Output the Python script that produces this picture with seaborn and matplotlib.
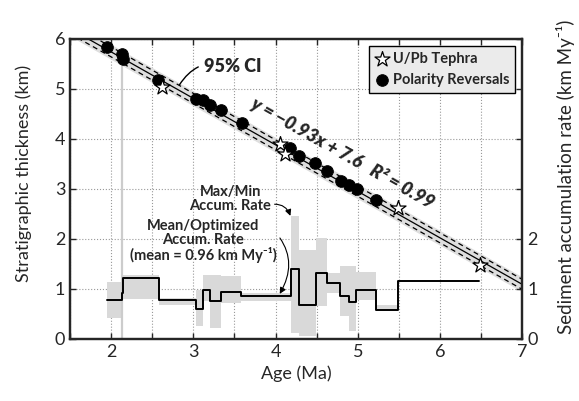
import numpy as np
import pandas as pd
import seaborn as sns
import matplotlib.pyplot as plt

# ---------------- DATA ----------------
# age (Ma) and stratigraphic thickness (km) of dated horizons
tephra_age = [2.62, 4.05, 4.11, 5.49, 6.48]
tephra_thk = [5.03, 3.90, 3.69, 2.62, 1.47]
reversal_age = [1.945, 2.127, 2.146, 2.57, 3.03, 3.12, 3.20, 3.33, 3.59,
                4.18, 4.29, 4.48, 4.62, 4.79, 4.89, 4.99, 5.22]
reversal_thk = [5.83, 5.70, 5.60, 5.17, 4.80, 4.77, 4.67, 4.58, 4.32,
                3.81, 3.65, 3.52, 3.35, 3.15, 3.07, 3.00, 2.77]

# linear fit shown on the chart
fit_slope = -0.93
fit_icept = 7.6
ci_half = 0.15

# accumulation rate (km/My), piecewise over age intervals
rate_edges = [1.945, 2.127, 2.146, 2.58, 3.03, 3.12, 3.20, 3.33, 3.58, 4.19,
              4.29, 4.49, 4.62, 4.78, 4.89, 4.98, 5.22, 5.49, 6.47]
rate_opt = [0.78, 0.91, 1.21, 0.77, 0.59, 0.98, 0.75, 0.93, 0.85, 1.39,
            0.68, 1.31, 1.11, 0.85, 0.73, 0.98, 0.58, 1.16]
rate_min = [0.42, 0.80, 0.80, 0.68, 0.25, 0.75, 0.22, 0.72, 0.76, 0.12,
            0.05, 0.65, 0.92, 0.45, 0.15, 0.78, 0.55, 1.16]
rate_max = [1.13, 1.28, 1.28, 0.82, 0.98, 1.27, 1.27, 1.25, 0.92, 2.45,
            1.78, 2.01, 1.32, 1.45, 1.45, 1.33, 0.68, 1.16]

# ---------------- STYLE ----------------
sns.set_style("ticks")
plt.rcParams["font.family"] = ["Lato", "DejaVu Sans"]
plt.rcParams["axes.linewidth"] = 1.6

fig = plt.figure(figsize=(5.79, 4.01), dpi=100)
ax = fig.add_axes([0.121, 0.155, 0.781, 0.748])

# rate boxes + step line
ax.fill_between(rate_edges, rate_min + [rate_min[-1]], rate_max + [rate_max[-1]],
                step="post", color="#d9d9d9", lw=0, zorder=1)
steps = pd.DataFrame({"age": rate_edges, "rate": rate_opt + [rate_opt[-1]]})
sns.lineplot(data=steps, x="age", y="rate", drawstyle="steps-post",
             color="black", lw=1.4, ax=ax, zorder=3)

ax.vlines(2.127, 0, 5.7, color="#cccccc", lw=1.6, zorder=1)

# regression line + 95% CI
xx = np.linspace(1.5, 7, 50)
yy = fit_slope * xx + fit_icept
ax.fill_between(xx, yy - ci_half, yy + ci_half, color="#dedede", lw=0, zorder=2)
sns.lineplot(x=xx, y=yy, color="black", lw=0.9, ax=ax, zorder=3)
ax.plot(xx, yy + 0.1, color="black", lw=0.9, ls=(0, (4, 3)), zorder=3)
ax.plot(xx, yy - 0.1, color="black", lw=0.9, ls=(0, (4, 3)), zorder=3)

sns.scatterplot(x=reversal_age, y=reversal_thk, marker="o", s=70, color="black",
                edgecolor="black", ax=ax, zorder=5, label="Polarity Reversals")
sns.scatterplot(x=tephra_age, y=tephra_thk, marker="*", s=130, color="white",
                edgecolor="black", linewidth=0.9, ax=ax, zorder=6, label="U/Pb Tephra")

# axes
ax.set_xlim(1.5, 7)
ax.set_ylim(0, 6)
ax.set_xticks(range(2, 8))
ax.set_xticks(np.arange(1.5, 7.01, 0.5), minor=True)
ax.set_yticks(range(0, 7))
ax.grid(which="both", axis="x", ls=":", color="#999999", lw=0.8)
ax.grid(which="major", axis="y", ls=":", color="#999999", lw=0.8)
ax.tick_params(which="both", direction="in", top=True, length=4, width=1, labelsize=13)
ax.set_xlabel("Age (Ma)", fontsize=13)
ax.set_ylabel("Stratigraphic thickness (km)", fontsize=13, labelpad=4)
ax.yaxis.set_label_coords(-0.085, 0.55)

ax2 = ax.twinx()
ax2.set_ylim(0, 6)
ax2.set_yticks(range(0, 7))
ax2.set_yticklabels(["0", "1", "2", "", "", "", ""])
ax2.tick_params(direction="in", length=4, width=1, labelsize=13)
ax2.set_ylabel("Sediment accumulation rate (km My\u207b\u00b9)", fontsize=13.5)
ax2.yaxis.set_label_coords(1.075, 0.54)

# legend
h, l = ax.get_legend_handles_labels()
leg = ax.legend(h[::-1], l[::-1], loc="upper right", frameon=True,
                fancybox=False, edgecolor="black", facecolor="#ebebeb", framealpha=1,
                handletextpad=0.2, borderpad=0.4, borderaxespad=0.5, handlelength=1.0,
                prop={"weight": "bold", "size": 10.5})
leg.get_frame().set_linewidth(1.0)

# annotations
ax.annotate("95% CI", xy=(2.83, 5.08), xytext=(3.48, 5.44), fontsize=13,
            fontweight="heavy", ha="center", va="center",
            arrowprops=dict(arrowstyle="-", color="black", lw=1,
                            connectionstyle="arc3,rad=0.4", shrinkA=2, shrinkB=0))
ax.text(4.82, 3.72, "y = \u22120.93x + 7.6   R\u00b2 = 0.99", fontsize=13,
        fontweight="heavy", style="italic", rotation=-29.4,
        rotation_mode="anchor", ha="center", va="center", zorder=7)
ax.annotate("Max/Min\nAccum. Rate", xy=(4.18, 2.46), xytext=(3.45, 2.80),
            fontsize=10.5, fontweight="bold", ha="center", va="center", linespacing=1.0,
            arrowprops=dict(arrowstyle="-|>", color="black", lw=0.8, mutation_scale=9,
                            connectionstyle="arc3,rad=-0.4", shrinkA=0, shrinkB=0,
                            relpos=(1.0, 0.3)))
ax.annotate("Mean/Optimized\nAccum. Rate\n(mean = 0.96 km My\u207b\u00b9)", xy=(4.05, 0.9),
            xytext=(3.12, 1.95), fontsize=10.5, fontweight="bold", ha="center",
            va="center", linespacing=1.0,
            arrowprops=dict(arrowstyle="-|>", color="black", lw=0.8, mutation_scale=9,
                            connectionstyle="arc3,rad=-0.4", shrinkA=0, shrinkB=0,
                            relpos=(0.95, 0.85)))

fig.savefig("out.png", dpi=100)
